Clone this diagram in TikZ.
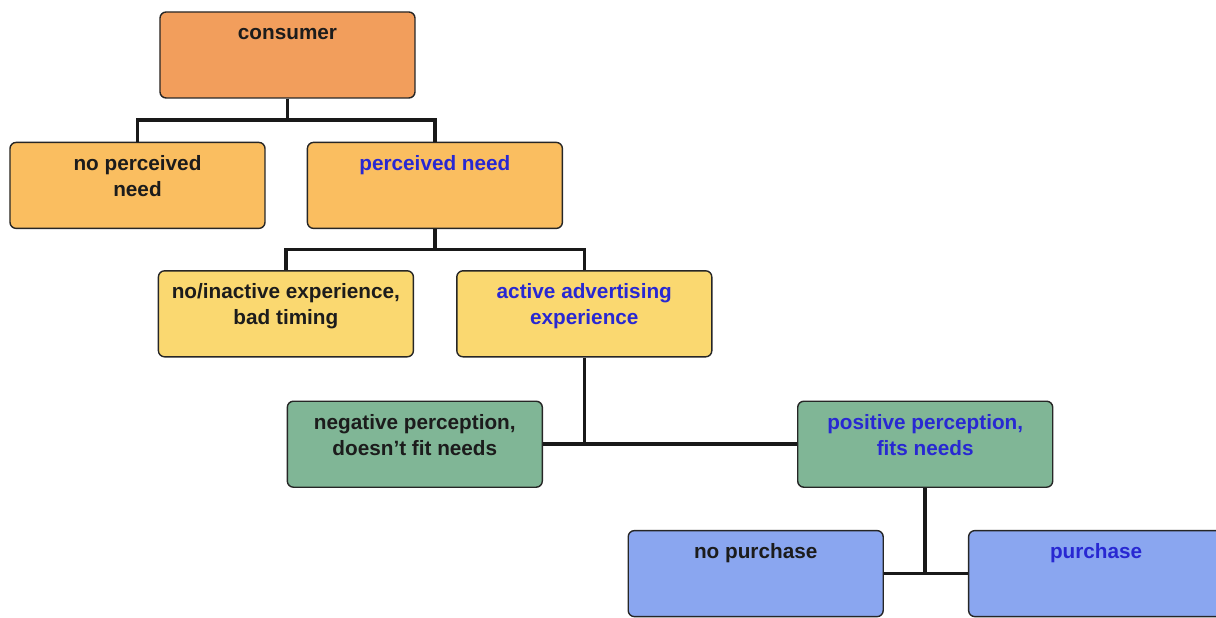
\documentclass[tikz,border=0pt]{standalone}
\usepackage{fontspec}
\setmainfont{Liberation Sans}
\usepackage{tikz}
\usetikzlibrary{positioning}
\definecolor{conorange}{RGB}{242,158,92}
\definecolor{needorange}{RGB}{250,190,96}
\definecolor{expyellow}{RGB}{250,216,112}
\definecolor{percgreen}{RGB}{128,182,150}
\definecolor{buyblue}{RGB}{138,166,240}
\definecolor{txtblue}{RGB}{40,40,210}
\definecolor{txtdark}{RGB}{28,28,28}
\tikzset{
  box/.style={draw=black!85, line width=0.8pt, rounded corners=3.5pt, align=center,
    minimum width=5.1cm, inner xsep=0pt, inner ysep=0pt,
    text height=0.56cm, text depth=1.16cm, text=txtdark,
    font=\fontsize{11.8}{14.7}\selectfont\bfseries},
  twoline/.style={text height=1.08cm, text depth=0.64cm},
  conbox/.style={box, fill=conorange},
  needbox/.style={box, fill=needorange},
  expbox/.style={box, fill=expyellow},
  percbox/.style={box, fill=percgreen},
  buybox/.style={box, fill=buyblue},
  hit/.style={text=txtblue},
  link/.style={draw=black!90, line width=2pt}
}
\begin{document}
\begin{tikzpicture}

  \useasboundingbox (-5.75,1.1) rectangle (18.57,-11.26);
  \clip (-5.75,1.1) rectangle (18.57,-11.26);

  % ---- top: the consumer ----
  \node[conbox] (consumer) at (0,0) {consumer};

  % ---- need row ----
  \node[needbox, twoline, below=0.86cm of consumer, xshift=-3.0cm] (noneed) {no perceived\\need};
  \node[needbox, hit, right=0.82cm of noneed] (need) {perceived need};

  \draw[link] (consumer.south) -- ++(0,-0.43) -| (noneed.north);
  \draw[link] (consumer.south) -- ++(0,-0.43) -| (need.north);

  % ---- experience row ----
  \node[expbox, twoline, below=0.82cm of need, xshift=-2.98cm] (inactive) {no/inactive experience,\\bad timing};
  \node[expbox, twoline, hit, right=0.84cm of inactive] (active) {active advertising\\experience};

  \draw[link] (need.south) -- ++(0,-0.41) -| (inactive.north);
  \draw[link] (need.south) -- ++(0,-0.41) -| (active.north);

  % ---- perception row ----
  \node[percbox, twoline, below=0.86cm of active, xshift=-3.39cm] (negative) {negative perception,\\doesn't fit needs};
  \node[percbox, twoline, hit, right=5.08cm of negative] (positive) {positive perception,\\fits needs};

  \draw[link] (negative.east) -- (positive.west);
  \draw[link] (active.south) -- (active.south |- negative.east);

  % ---- purchase row ----
  \node[buybox, below=0.84cm of positive, xshift=-3.39cm] (nopurchase) {no purchase};
  \node[buybox, hit, right=1.68cm of nopurchase] (purchase) {purchase};

  \draw[link] (nopurchase.east) -- (purchase.west);
  \draw[link] (positive.south) -- (positive.south |- nopurchase.east);

\end{tikzpicture}
\end{document}
